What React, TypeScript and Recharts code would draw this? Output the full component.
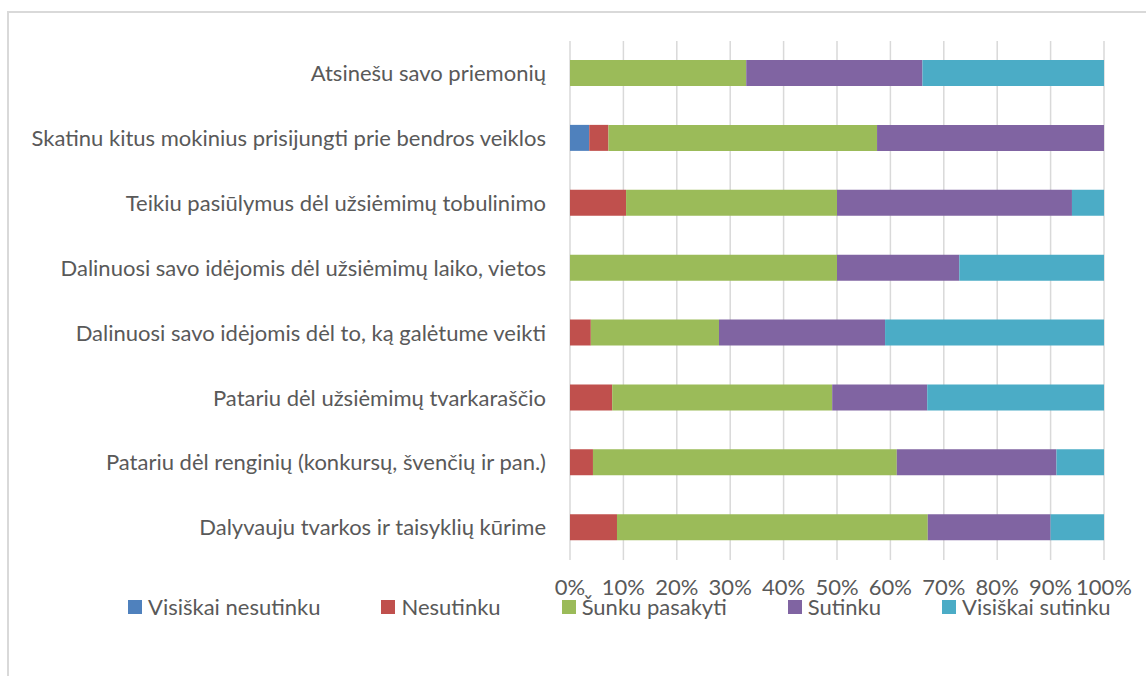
import React from "react";
import { Bar, BarChart, CartesianGrid, Legend, XAxis, YAxis } from "recharts";

const categories = [
  "Atsinešu savo priemonių",
  "Skatinu kitus mokinius prisijungti prie bendros veiklos",
  "Teikiu pasiūlymus dėl užsiėmimų tobulinimo",
  "Dalinuosi savo idėjomis dėl užsiėmimų laiko, vietos",
  "Dalinuosi savo idėjomis dėl to, ką galėtume veikti",
  "Patariu dėl užsiėmimų tvarkaraščio",
  "Patariu dėl renginių (konkursų, švenčių ir pan.)",
  "Dalyvauju tvarkos ir taisyklių kūrime",
];

const visiskaiNesutinku = [0, 3.6, 0, 0, 0, 0, 0, 0];
const nesutinku = [0, 3.6, 10.5, 0, 3.9, 7.9, 4.3, 8.8];
const sunkuPasakyti = [33, 50.3, 39.5, 50, 24, 41.2, 56.9, 58.2];
const sutinku = [33, 42.5, 44, 22.9, 31.1, 17.8, 29.9, 23];
const visiskaiSutinku = [34, 0, 6, 27.1, 41, 33.1, 8.9, 10];

const xTicks = [0, 10, 20, 30, 40, 50, 60, 70, 80, 90, 100];

const series = [
  { key: "a", name: "Visiškai nesutinku", color: "#4f81bd", values: visiskaiNesutinku },
  { key: "b", name: "Nesutinku", color: "#c0504d", values: nesutinku },
  { key: "c", name: "Šunku pasakyti", color: "#9bbb59", values: sunkuPasakyti },
  { key: "d", name: "Sutinku", color: "#8064a2", values: sutinku },
  { key: "e", name: "Visiškai sutinku", color: "#4bacc6", values: visiskaiSutinku },
];

const data = categories.map((name, i) => {
  const row: Record<string, string | number> = { name };
  series.forEach((s) => {
    row[s.key] = s.values[i];
  });
  return row;
});

const FONT = "Lato, 'Open Sans', sans-serif";
const TEXT = "#595959";
const SIZE = 22;

function LegendContent() {
  return (
    <div
      style={{
        display: "flex",
        alignItems: "center",
        whiteSpace: "nowrap",
        fontFamily: FONT,
        fontSize: SIZE,
        color: TEXT,
        lineHeight: "26px",
      }}
    >
      {series.map((s) => (
        <div key={s.key} style={{ display: "flex", alignItems: "center", flexShrink: 0, marginRight: 61 }}>
          <span style={{ width: 14, height: 14, background: s.color, display: "inline-block", marginRight: 6 }} />
          <span>{s.name}</span>
        </div>
      ))}
    </div>
  );
}

export default function App() {
  return (
    <div style={{ position: "absolute", left: 0, top: 0, width: 1146, height: 676, overflow: "hidden", background: "#fff" }}>
      <div
        style={{
          position: "absolute",
          left: 7,
          top: 11,
          width: 1300,
          height: 900,
          border: "2px solid #d9d9d9",
          boxSizing: "border-box",
        }}
      />
      <div style={{ position: "absolute", left: 0, top: 0 }}>
        <BarChart
          width={1146}
          height={676}
          data={data}
          layout="vertical"
          margin={{ top: 41, right: 42, bottom: 0, left: 0 }}
        >
          <CartesianGrid horizontal={false} stroke="#d9d9d9" strokeWidth={1.5} />
          <XAxis
            type="number"
            domain={[0, 100]}
            ticks={xTicks}
            tickFormatter={(v) => `${v}%`}
            axisLine={false}
            tickLine={false}
            tickSize={0}
            tickMargin={19}
            height={116}
            interval={0}
            tick={{ fill: TEXT, fontSize: SIZE, fontFamily: FONT }}
          />
          <YAxis
            type="category"
            dataKey="name"
            width={570}
            axisLine={false}
            tickLine={false}
            tickSize={0}
            tickMargin={24}
            interval={0}
            tick={{ fill: TEXT, fontSize: SIZE, fontFamily: FONT }}
          />
          {series.map((s) => (
            <Bar
              key={s.key}
              dataKey={s.key}
              name={s.name}
              stackId="s"
              fill={s.color}
              barSize={26}
              isAnimationActive={false}
            />
          ))}
          <Legend
            layout="horizontal"
            verticalAlign="middle"
            align="center"
            content={<LegendContent />}
            wrapperStyle={{ top: 594, left: 128, width: 1010 }}
          />
        </BarChart>
      </div>
    </div>
  );
}
